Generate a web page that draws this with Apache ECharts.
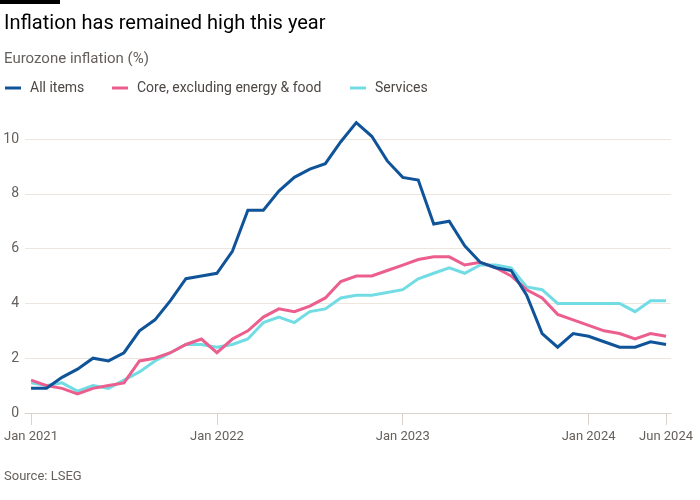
<!DOCTYPE html>
<html>
<head>
<meta charset="utf-8">
<script src="https://cdn.jsdelivr.net/npm/echarts@6/dist/echarts.min.js"></script>
<style>
html,body{margin:0;padding:0;background:#fff;}
#chart{width:700px;height:500px;}
</style>
</head>
<body>
<div id="chart"></div>
<script>
// ---- Data ----
const monthNames = ['Jan','Feb','Mar','Apr','May','Jun','Jul','Aug','Sep','Oct','Nov','Dec'];
const years = [2021, 2022, 2023, 2024];
const monthCount = 42; // Jan 2021 .. Jun 2024

const allItems = [0.9,0.9,1.3,1.6,2.0,1.9,2.2,3.0,3.4,4.1,4.9,5.0,
                  5.1,5.9,7.4,7.4,8.1,8.6,8.9,9.1,9.9,10.6,10.1,9.2,
                  8.6,8.5,6.9,7.0,6.1,5.5,5.3,5.2,4.3,2.9,2.4,2.9,
                  2.8,2.6,2.4,2.4,2.6,2.5];
const core = [1.2,1.0,0.9,0.7,0.9,1.0,1.1,1.9,2.0,2.2,2.5,2.7,
              2.2,2.7,3.0,3.5,3.8,3.7,3.9,4.2,4.8,5.0,5.0,5.2,
              5.4,5.6,5.7,5.7,5.4,5.5,5.3,5.0,4.5,4.2,3.6,3.4,
              3.2,3.0,2.9,2.7,2.9,2.8];
const services = [1.1,1.0,1.1,0.8,1.0,0.9,1.2,1.5,1.9,2.2,2.5,2.5,
                  2.4,2.5,2.7,3.3,3.5,3.3,3.7,3.8,4.2,4.3,4.3,4.4,
                  4.5,4.9,5.1,5.3,5.1,5.4,5.4,5.3,4.6,4.5,4.0,4.0,
                  4.0,4.0,4.0,3.7,4.1,4.1];

const xTickLabels = ['Jan 2021','Jan 2022','Jan 2023','Jan 2024','Jun 2024'];
const xTickIndex = [0, 12, 24, 36, 41];
const yTicks = [0, 2, 4, 6, 8, 10];

const seriesNames = ['All items', 'Core, excluding energy & food', 'Services'];

// ---- Build ----
const months = [];
for (let i = 0; i < monthCount; i++) {
  months.push(monthNames[i % 12] + ' ' + years[Math.floor(i / 12)]);
}
const toPairs = arr => arr.map((v, i) => [i, v]);

const FONT = 'Roboto';
const grey = '#66605c';

const chart = echarts.init(document.getElementById('chart'), null, {renderer: 'canvas'});

const lineSeries = (name, data, color) => ({
  name: name,
  type: 'line',
  data: toPairs(data),
  symbol: 'none',
  clip: false,
  lineStyle: {color: color, width: 3, join: 'miter'},
  itemStyle: {color: color},
  emphasis: {disabled: true}
});

const legendBase = {
  top: 76,
  icon: 'rect',
  itemWidth: 16,
  itemHeight: 3,
  selectedMode: false,
  textStyle: {fontFamily: FONT, fontSize: 14, color: '#4d4845', padding: [0, 0, 0, 4]}
};

chart.setOption({
  backgroundColor: '#ffffff',
  animation: false,
  title: [
    {text: 'Inflation has remained high this year', left: -1, top: 9,
     textStyle: {fontFamily: FONT, fontSize: 20, fontWeight: 'normal', color: '#000000'}},
    {text: 'Eurozone inflation (%)', left: -1, top: 47,
     textStyle: {fontFamily: FONT, fontSize: 15, fontWeight: 'normal', color: grey}},
    {text: 'Source: LSEG', left: -1, top: 465,
     textStyle: {fontFamily: FONT, fontSize: 13, fontWeight: 'normal', color: grey}}
  ],
  graphic: [
    {type: 'rect', left: 0, top: 0, shape: {width: 60, height: 4}, style: {fill: '#000000'}}
  ],
  legend: [
    Object.assign({}, legendBase, {left: 0, data: [seriesNames[0]]}),
    Object.assign({}, legendBase, {left: 107, data: [seriesNames[1]]}),
    Object.assign({}, legendBase, {left: 345, data: [seriesNames[2]]})
  ],
  grid: {left: 25, right: 29, top: 139, bottom: 87, containLabel: false},
  xAxis: {
    type: 'value',
    min: -0.39,
    max: 41.32,
    splitLine: {show: false},
    axisLine: {show: true, lineStyle: {color: '#d9d3cc', width: 1}},
    axisTick: {show: true, length: 12, customValues: xTickIndex, lineStyle: {color: '#d9d3cc'}},
    axisLabel: {
      customValues: xTickIndex,
      margin: 17,
      fontFamily: FONT, fontSize: 13, color: grey,
      formatter: v => {
        const k = xTickIndex.indexOf(Math.round(v));
        return k >= 0 ? xTickLabels[k] : '';
      }
    }
  },
  yAxis: {
    type: 'value',
    min: yTicks[0],
    max: yTicks[yTicks.length - 1],
    interval: 2,
    axisLine: {show: false},
    axisTick: {show: false},
    splitLine: {show: true, lineStyle: {color: '#ece6df', width: 1}},
    axisLabel: {margin: 6, fontFamily: FONT, fontSize: 14, color: grey}
  },
  series: [
    lineSeries(seriesNames[2], services, '#72dce5'),
    lineSeries(seriesNames[1], core, '#eb5e8d'),
    lineSeries(seriesNames[0], allItems, '#0f5499')
  ]
});
</script>
</body>
</html>
